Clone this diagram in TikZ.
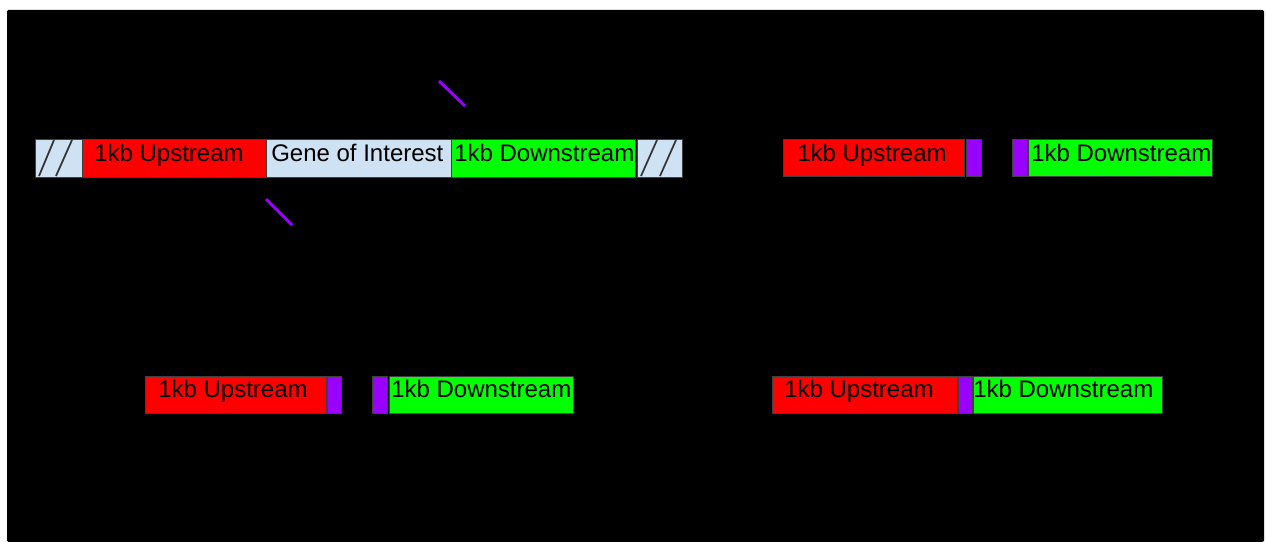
\documentclass[tikz,border=0pt]{standalone}
\usepackage{fontspec}
\setmainfont{Liberation Sans}
\definecolor{upred}{HTML}{FF0000}
\definecolor{downgreen}{HTML}{00FF00}
\definecolor{cutpurple}{HTML}{9900FF}
\definecolor{genblue}{HTML}{CFE2F3}
\definecolor{edgegray}{HTML}{404040}
\begin{document}
\begin{tikzpicture}[x=0.75pt,y=-0.75pt,
  seg/.style={draw=edgegray, line width=0.6pt},
  lbl/.style={anchor=base west, inner sep=0pt, text=black,
    font=\fontsize{18}{20}\selectfont},
  hatch/.style={draw=black!80, line width=1.3pt},
  cut/.style={draw=cutpurple, line width=2.2pt}]
\useasboundingbox (0,0) rectangle (1266,542);
% background panel
\fill[black, rounded corners=1pt] (7,10) rectangle (1264,542);

% ---- genomic locus ----
\draw[seg, fill=genblue] (35,139) rectangle (82,177);
\draw[hatch] (39,176) -- (54,140);
\draw[hatch] (56,176) -- (72,140);
\draw[seg, fill=upred] (82,139) rectangle (266,177);
\draw[seg, fill=genblue] (266,139) rectangle (451,177);
\draw[seg, fill=downgreen] (451,139) rectangle (635,177);
\draw[seg, fill=genblue] (637,139) rectangle (682,177);
\draw[hatch] (641,176) -- (657,140);
\draw[hatch] (660,176) -- (676,140);
\node[lbl] (locUp) at (94,161) {1kb Upstream};
\node[lbl] (locGene) at (271,161) {Gene of Interest};
\node[lbl] (locDown) at (454,161) {1kb Downstream};
\draw[cut] (439,81) -- (465,106);
\draw[cut] (266,199) -- (292,225);

% ---- amplified flanks with overlap tails ----
\draw[seg, fill=upred] (783,139) rectangle (964,176);
\draw[seg, fill=cutpurple] (966,139) rectangle (981,176);
\draw[seg, fill=cutpurple] (1012,139) rectangle (1027,176);
\draw[seg, fill=downgreen] (1028,139) rectangle (1212,176);
\node[lbl] (ampUp) at (797,161) {1kb Upstream};
\node[lbl] (ampDown) at (1031,161) {1kb Downstream};

% ---- flanks before joining ----
\draw[seg, fill=upred] (145,376) rectangle (326,413);
\draw[seg, fill=cutpurple] (327,376) rectangle (341,413);
\draw[seg, fill=cutpurple] (372,376) rectangle (387,413);
\draw[seg, fill=downgreen] (389,376) rectangle (573,413);
\node[lbl] (sepUp) at (158,397) {1kb Upstream};
\node[lbl] (sepDown) at (391,397) {1kb Downstream};

% ---- fused deletion construct ----
\draw[seg, fill=upred] (772,376) rectangle (957,413);
\draw[seg, fill=cutpurple] (958,376) rectangle (972,413);
\draw[seg, fill=downgreen] (973,376) rectangle (1162,413);
\node[lbl] (fusUp) at (784,397) {1kb Upstream};
\node[lbl] (fusDown) at (973,397) {1kb Downstream};
\end{tikzpicture}
\end{document}
